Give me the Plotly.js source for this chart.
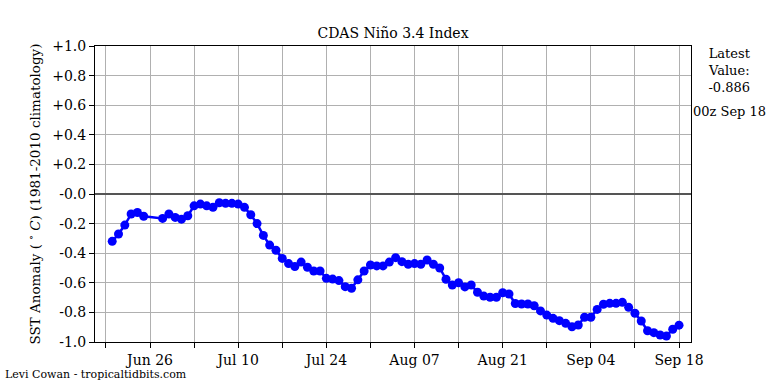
<!DOCTYPE html>
<html>
<head>
<meta charset="utf-8">
<script src="https://cdn.plot.ly/plotly-3.0.1.min.js"></script>
<style>html,body{margin:0;padding:0;background:#fff;}#chart{width:768px;height:384px;}</style>
</head>
<body>
<div id="chart"></div>
<script>
var dates = [
 '2021-06-20','2021-06-21','2021-06-22','2021-06-23','2021-06-24','2021-06-25',
 '2021-06-28','2021-06-29','2021-06-30','2021-07-01','2021-07-02','2021-07-03','2021-07-04','2021-07-05',
 '2021-07-06','2021-07-07','2021-07-08','2021-07-09','2021-07-10','2021-07-11','2021-07-12','2021-07-13',
 '2021-07-14','2021-07-15','2021-07-16','2021-07-17','2021-07-18','2021-07-19','2021-07-20','2021-07-21',
 '2021-07-22','2021-07-23','2021-07-24','2021-07-25','2021-07-26','2021-07-27','2021-07-28','2021-07-29',
 '2021-07-30','2021-07-31','2021-08-01','2021-08-02','2021-08-03','2021-08-04','2021-08-05','2021-08-06',
 '2021-08-07','2021-08-08','2021-08-09','2021-08-10','2021-08-11','2021-08-12','2021-08-13','2021-08-14',
 '2021-08-15','2021-08-16','2021-08-17','2021-08-18','2021-08-19','2021-08-20','2021-08-21','2021-08-22',
 '2021-08-23','2021-08-24','2021-08-25','2021-08-26','2021-08-27','2021-08-28','2021-08-29','2021-08-30',
 '2021-08-31','2021-09-01','2021-09-02','2021-09-03','2021-09-04','2021-09-05','2021-09-06','2021-09-07',
 '2021-09-08','2021-09-09','2021-09-10','2021-09-11','2021-09-12','2021-09-13','2021-09-14','2021-09-15',
 '2021-09-16','2021-09-17','2021-09-18'
];
var anomaly = [
 -0.32,-0.27,-0.21,-0.135,-0.125,-0.15,
 -0.165,-0.135,-0.158,-0.17,-0.147,-0.08,-0.068,-0.08,
 -0.09,-0.059,-0.063,-0.063,-0.068,-0.09,-0.14,-0.2,
 -0.28,-0.345,-0.38,-0.435,-0.47,-0.49,-0.46,-0.495,
 -0.52,-0.52,-0.57,-0.575,-0.585,-0.626,-0.637,-0.58,
 -0.52,-0.48,-0.486,-0.486,-0.46,-0.43,-0.457,-0.475,
 -0.47,-0.475,-0.446,-0.475,-0.5,-0.576,-0.615,-0.6,
 -0.628,-0.615,-0.664,-0.69,-0.698,-0.698,-0.667,-0.676,
 -0.74,-0.743,-0.743,-0.755,-0.79,-0.818,-0.84,-0.856,
 -0.874,-0.897,-0.885,-0.833,-0.833,-0.78,-0.745,-0.739,
 -0.739,-0.732,-0.766,-0.806,-0.858,-0.924,-0.937,-0.953,
 -0.96,-0.914,-0.886
];
var xTickVals = ['2021-06-26','2021-07-10','2021-07-24','2021-08-07','2021-08-21','2021-09-04','2021-09-18'];
var xTickText = ['Jun 26','Jul 10','Jul 24','Aug 07','Aug 21','Sep 04','Sep 18'];
var xMinorStart = '2021-06-19';
var yTickVals = [1.0,0.8,0.6,0.4,0.2,0.0,-0.2,-0.4,-0.6,-0.8,-1.0];
var yTickText = ['+1.0','+0.8','+0.6','+0.4','+0.2','-0.0','-0.2','-0.4','-0.6','-0.8','-1.0'];
var latestValue = '-0.886';
var latestTime = '00z Sep 18';

var F = 'DejaVu Serif';
var trace = {
  x: dates, y: anomaly, type: 'scatter', mode: 'lines+markers',
  line: {color: '#0000ff', width: 2.5},
  marker: {color: '#0000ff', size: 9},
  hoverinfo: 'x+y'
};
var layout = {
  width: 768, height: 384,
  margin: {l: 95, r: 77, t: 46, b: 42, pad: 0},
  paper_bgcolor: '#ffffff', plot_bgcolor: '#ffffff',
  showlegend: false,
  font: {family: F, size: 13, color: '#000'},
  title: {text: 'CDAS Niño 3.4 Index', font: {family: F, size: 14, color: '#000'},
          x: 0.5, xref: 'paper', y: 0.915, yref: 'container', xanchor: 'center', yanchor: 'middle'},
  xaxis: {
    type: 'date', range: ['2021-06-17 06:24', '2021-09-19 21:36'],
    tickmode: 'array', tickvals: xTickVals, ticktext: xTickText,
    showgrid: true, gridcolor: '#b0b0b0', gridwidth: 1,
    ticks: 'outside', ticklen: 5, tickcolor: '#000', tickwidth: 1,
    minor: {tick0: xMinorStart, dtick: 7 * 86400000, showgrid: true, gridcolor: '#b0b0b0', gridwidth: 1,
            ticks: 'outside', ticklen: 5, tickcolor: '#000', tickwidth: 1},
    showline: true, linecolor: '#000', linewidth: 1, mirror: true,
    zeroline: false, tickfont: {family: F, size: 14, color: '#000'}
  },
  yaxis: {
    range: [-1.0, 1.0],
    tickmode: 'array', tickvals: yTickVals, ticktext: yTickText,
    showgrid: true, gridcolor: '#b0b0b0', gridwidth: 1,
    ticks: 'outside', ticklen: 5, tickcolor: '#000', tickwidth: 1,
    showline: true, linecolor: '#000', linewidth: 1, mirror: true,
    zeroline: true, zerolinecolor: '#555555', zerolinewidth: 1.5,
    tickfont: {family: F, size: 14, color: '#000'},
    title: {text: 'SST Anomaly ( <sup>∘</sup> <i>C</i>) (1981-2010 climatology)', font: {family: F, size: 13.5, color: '#000'}, standoff: 8}
  },
  annotations: [
    {text: 'Latest<br>Value:<br>' + latestValue, xref: 'paper', yref: 'paper', x: 1.065, y: 1.008,
     xanchor: 'center', yanchor: 'top', showarrow: false, align: 'center',
     font: {family: F, size: 13, color: '#000'}},
    {text: latestTime, xref: 'paper', yref: 'paper', x: 1.065, y: 0.78,
     xanchor: 'center', yanchor: 'middle', showarrow: false,
     font: {family: F, size: 13, color: '#000'}},
    {text: 'Levi Cowan - tropicaltidbits.com', xref: 'paper', yref: 'paper', x: -0.155, y: -0.082,
     xanchor: 'left', yanchor: 'top', showarrow: false,
     font: {family: F, size: 11, color: '#000'}}
  ]
};
Plotly.newPlot('chart', [trace], layout, {displayModeBar: false, staticPlot: true});
</script>
</body>
</html>
